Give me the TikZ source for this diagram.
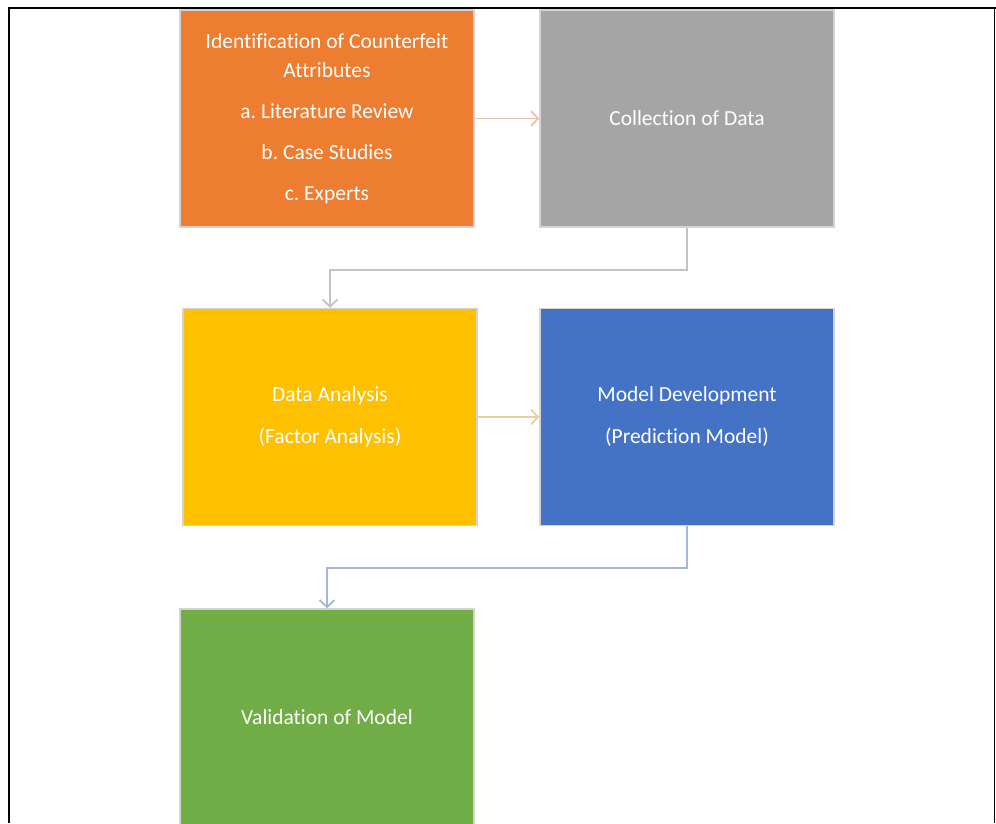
\documentclass[tikz,border=0pt]{standalone}
\usepackage{fontspec}
\setmainfont[Ligatures=NoCommon]{Carlito}
\usetikzlibrary{arrows.meta}
\frenchspacing
\definecolor{cOrange}{HTML}{ED7D31}
\definecolor{cGrey}{HTML}{A5A5A5}
\definecolor{cGold}{HTML}{FFC000}
\definecolor{cBlue}{HTML}{4472C4}
\definecolor{cGreen}{HTML}{70AD47}
\definecolor{boxedge}{HTML}{D3D3D3}
\definecolor{lnOrange}{HTML}{EBC3A9}
\definecolor{lnGrey}{HTML}{C3C3C3}
\definecolor{lnGold}{HTML}{E6CFA0}
\definecolor{lnBlue}{HTML}{A6B5DA}
\begin{document}
\begin{tikzpicture}[x=1pt,y=-1pt,
  stage/.style={draw=boxedge,line width=1.5pt,minimum width=294pt,minimum height=217pt,
    inner sep=0pt,text=white,align=center,font=\fontsize{21.5}{29}\selectfont},
  link/.style={line width=1.8pt,-{Straight Barb[length=7pt,width=15pt,line width=1.8pt]}}]
\useasboundingbox (0,0) rectangle (996,823);
% outer frame
\draw[line width=2.5pt] (9,823) -- (9,8) -- (996,8);
\draw[line width=1.2pt] (994.5,8) -- (994.5,823);
% process stages
\node[stage,fill=cOrange] (ident) at (327,118.5)
  {Identification of Counterfeit\\Attributes\\[12pt]a. Literature Review\\[12pt]b. Case Studies\\[12pt]c. Experts};
\node[stage,fill=cGrey] (collect) at (687,118.5) {Collection of Data};
\node[stage,fill=cGold] (analysis) at (330,417) {Data Analysis\\[13pt](Factor Analysis)};
\node[stage,fill=cBlue] (model) at (687,417) {Model Development\\[13pt](Prediction Model)};
\node[stage,fill=cGreen] (valid) at (327,717.5) {Validation of Model};
% connectors
\draw[link,lnOrange] (ident.east) -- (collect.west);
\draw[link,lnGrey] (collect.south) -- ++(0,42) -| (analysis.north);
\draw[link,lnGold] (analysis.east) -- (model.west);
\draw[link,lnBlue] (model.south) -- ++(0,42) -| (valid.north);
\end{tikzpicture}
\end{document}
